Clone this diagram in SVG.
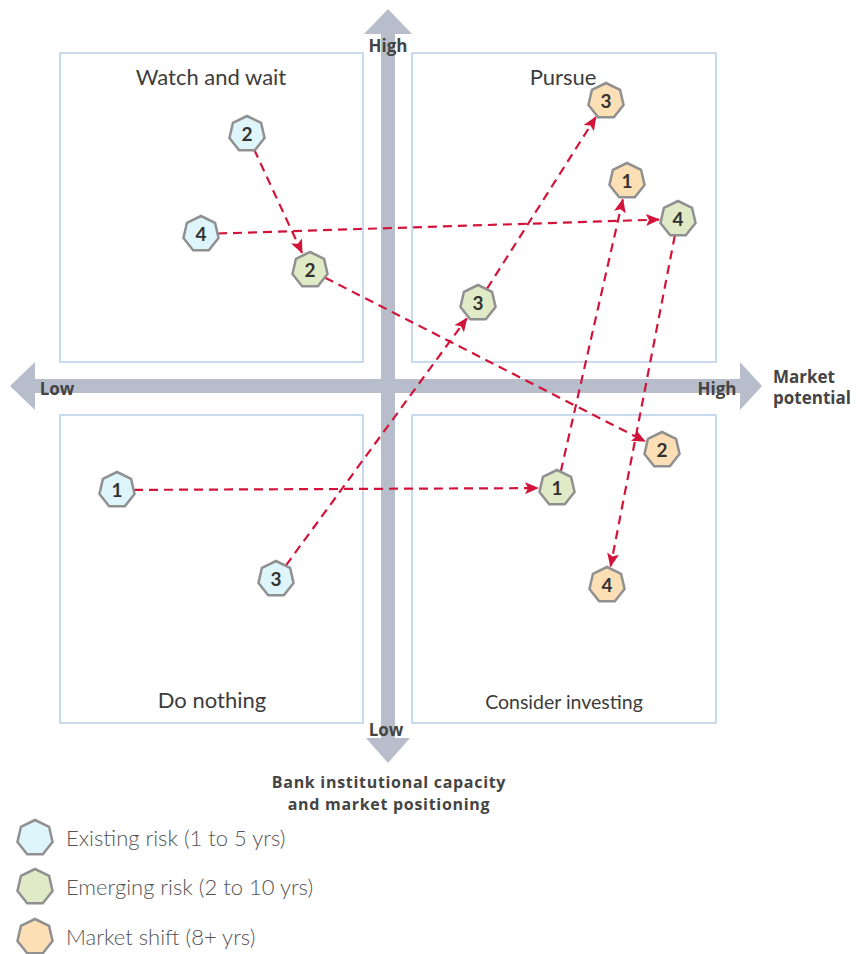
<svg xmlns="http://www.w3.org/2000/svg" width="860" height="954" viewBox="0 0 860 954">
<style>
.quad{fill:#fff;stroke:#a9c4e4;stroke-width:1.2}
.axis{fill:#b7bdca}
.qlabel{font-family:Lato,"Open Sans",sans-serif;font-size:22px;fill:#3c3c3c;text-anchor:middle}
.alabel{font-family:"Open Sans",Lato,sans-serif;font-size:17px;font-weight:bold;fill:#444;text-anchor:middle}
.cap{font-size:16px;letter-spacing:0.7px}
.num{font-family:Lato,"Open Sans",sans-serif;font-size:19px;font-weight:bold;fill:#333;text-anchor:middle}
.leg{font-family:Lato,"Open Sans",sans-serif;font-size:22px;font-weight:300;fill:#555}
.hex{stroke:#909090;stroke-width:2.5}
.ex{fill:#def5fb}
.em{fill:#e1eac6}
.ms{fill:#fddfb6}
.conn{fill:none;stroke:#d2143a;stroke-width:2.2;stroke-dasharray:9,6}
</style>
<defs>
<polygon id="hept" points="0,-18 14.07,-11.22 17.55,4.01 7.81,16.22 -7.81,16.22 -17.55,4.01 -14.07,-11.22"/>
<marker id="ah" markerWidth="14" markerHeight="12" refX="13" refY="6" orient="auto" markerUnits="userSpaceOnUse">
<path d="M0,0 L14,6 L0,12 L3,6 Z" fill="#d2143a"/>
</marker>
</defs>
<g id="quadrants">
<rect class="quad" x="60" y="53" width="303" height="309"/>
<rect class="quad" x="412" y="53" width="304" height="309"/>
<rect class="quad" x="60" y="415" width="303" height="308"/>
<rect class="quad" x="412" y="415" width="304" height="308"/>
</g>
<g id="axes">
<rect class="axis" x="381" y="32" width="14" height="707"/>
<polygon class="axis" points="388,9 412,34 364,34"/>
<polygon class="axis" points="388,763 410,738 366,738"/>
<rect class="axis" x="34" y="379" width="707" height="14"/>
<polygon class="axis" points="10,386 35,362 35,410"/>
<polygon class="axis" points="762,386 740,362 740,410"/>
</g>
<g id="labels">
<text class="qlabel" x="211" y="85">Watch and wait</text>
<text class="qlabel" x="563" y="85">Pursue</text>
<text class="qlabel" x="212" y="708">Do nothing</text>
<text class="qlabel" x="564" y="709" style="font-size:19.5px">Consider investing</text>
<text class="alabel" x="388" y="52">High</text>
<text class="alabel" x="386" y="736">Low</text>
<text class="alabel" x="57" y="395">Low</text>
<text class="alabel" x="717" y="395">High</text>
<text class="alabel" x="773" y="383" style="text-anchor:start">Market</text>
<text class="alabel" x="773" y="404" style="text-anchor:start">potential</text>
<text class="alabel cap" x="389" y="788">Bank institutional capacity</text>
<text class="alabel cap" x="389" y="810">and market positioning</text>
</g>
<g id="connectors">
<line class="conn" x1="254.1" y1="149.4" x2="302" y2="252.8" marker-end="url(#ah)"/>
<line class="conn" x1="218" y1="233.5" x2="659" y2="219.6" marker-end="url(#ah)"/>
<line class="conn" x1="325.1" y1="277.7" x2="645.1" y2="441.4" marker-end="url(#ah)"/>
<line class="conn" x1="286" y1="565.3" x2="466.8" y2="318.3" marker-end="url(#ah)"/>
<line class="conn" x1="487.1" y1="288.6" x2="595.8" y2="117.1" marker-end="url(#ah)"/>
<line class="conn" x1="134" y1="489.9" x2="538" y2="488.1" marker-end="url(#ah)"/>
<line class="conn" x1="560.8" y1="471.4" x2="622.8" y2="199.5" marker-end="url(#ah)"/>
<line class="conn" x1="674.8" y1="235.7" x2="610.6" y2="566.3" marker-end="url(#ah)"/>
</g>
<g id="node-ex2"><use href="#hept" class="hex ex" x="247" y="134"/><text class="num" x="247" y="141">2</text></g>
<g id="node-ex4"><use href="#hept" class="hex ex" x="201" y="234"/><text class="num" x="201" y="241">4</text></g>
<g id="node-ex1"><use href="#hept" class="hex ex" x="117" y="490"/><text class="num" x="117" y="497">1</text></g>
<g id="node-ex3"><use href="#hept" class="hex ex" x="276" y="579"/><text class="num" x="276" y="586">3</text></g>
<g id="node-em2"><use href="#hept" class="hex em" x="310" y="270"/><text class="num" x="310" y="277">2</text></g>
<g id="node-em3"><use href="#hept" class="hex em" x="478" y="303"/><text class="num" x="478" y="310">3</text></g>
<g id="node-em4"><use href="#hept" class="hex em" x="678" y="219"/><text class="num" x="678" y="226">4</text></g>
<g id="node-em1"><use href="#hept" class="hex em" x="557" y="488"/><text class="num" x="557" y="495">1</text></g>
<g id="node-ms3"><use href="#hept" class="hex ms" x="606" y="101"/><text class="num" x="606" y="108">3</text></g>
<g id="node-ms1"><use href="#hept" class="hex ms" x="627" y="181"/><text class="num" x="627" y="188">1</text></g>
<g id="node-ms2"><use href="#hept" class="hex ms" x="662" y="450"/><text class="num" x="662" y="457">2</text></g>
<g id="node-ms4"><use href="#hept" class="hex ms" x="607" y="585"/><text class="num" x="607" y="592">4</text></g>
<g id="legend">
<use href="#hept" class="hex ex" x="35" y="838"/>
<text class="leg" x="66" y="846">Existing risk (1 to 5 yrs)</text>
<use href="#hept" class="hex em" x="35" y="887"/>
<text class="leg" x="66" y="895">Emerging risk (2 to 10 yrs)</text>
<use href="#hept" class="hex ms" x="35" y="937"/>
<text class="leg" x="66" y="945">Market shift (8+ yrs)</text>
</g>
</svg>
